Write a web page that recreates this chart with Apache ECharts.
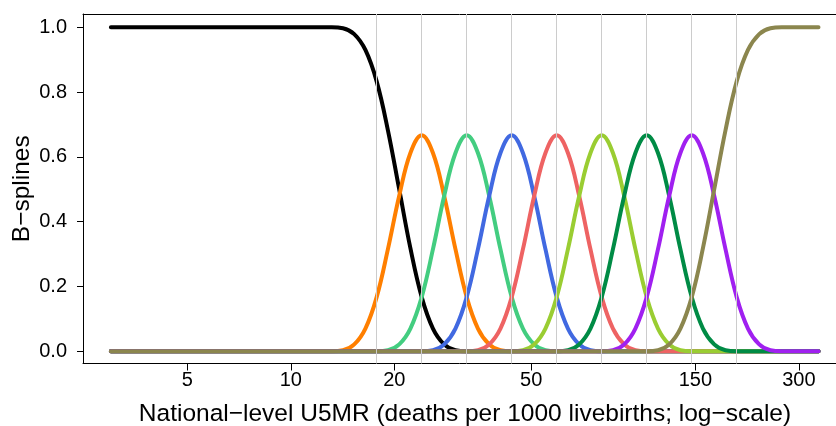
<!DOCTYPE html>
<html>
<head>
<meta charset="utf-8">
<script src="https://cdn.jsdelivr.net/npm/echarts@6/dist/echarts.min.js"></script>
<style>
  html, body { margin: 0; padding: 0; background: #ffffff; }
  #chart { width: 836px; height: 426px; }
</style>
</head>
<body>
<div id="chart"></div>
<script>
// National-level U5MR sample positions (log-scale x axis)
const u5mr = [3,
  13.15, 14.18, 15.29, 16.48, 17.77, 19.16, 20.66, 22.27,
  24.02, 25.90, 27.92, 30.11, 32.46, 35.00, 37.74, 40.69,
  43.87, 47.30, 51.00, 54.99, 59.29, 63.93, 68.93, 74.32,
  80.13, 86.40, 93.15, 100.4, 108.3, 116.8, 125.9, 135.7,
  146.4, 157.8, 170.2, 183.5, 197.8, 213.3, 230.0, 247.9,
  267.3, 342];

// Knot positions (grey vertical lines)
const knots = [17.77, 24.02, 32.46, 43.87, 59.29, 80.13, 108.3, 146.4, 197.8];

// Tick labels
const xTicks = [5, 10, 20, 50, 150, 300];
const yTicks = [0, 0.2, 0.4, 0.6, 0.8, 1.0];

// B-spline basis values (one array per basis function)
const bs1 = [1,
  1.000, 0.997, 0.979, 0.930, 0.833, 0.682, 0.500, 0.318,
  0.167, 0.070, 0.021, 0.003, 0, 0, 0, 0,
  0, 0, 0, 0, 0, 0, 0, 0,
  0, 0, 0, 0, 0, 0, 0, 0,
  0, 0, 0, 0, 0, 0, 0, 0,
  0, 0];
const bs2 = [0,
  0, 0.003, 0.021, 0.070, 0.167, 0.315, 0.479, 0.612,
  0.667, 0.612, 0.479, 0.315, 0.167, 0.070, 0.021, 0.003,
  0, 0, 0, 0, 0, 0, 0, 0,
  0, 0, 0, 0, 0, 0, 0, 0,
  0, 0, 0, 0, 0, 0, 0, 0,
  0, 0];
const bs3 = [0,
  0, 0, 0, 0, 0, 0.003, 0.021, 0.070,
  0.167, 0.315, 0.479, 0.612, 0.667, 0.612, 0.479, 0.315,
  0.167, 0.070, 0.021, 0.003, 0, 0, 0, 0,
  0, 0, 0, 0, 0, 0, 0, 0,
  0, 0, 0, 0, 0, 0, 0, 0,
  0, 0];
const bs4 = [0,
  0, 0, 0, 0, 0, 0, 0, 0,
  0, 0.003, 0.021, 0.070, 0.167, 0.315, 0.479, 0.612,
  0.667, 0.612, 0.479, 0.315, 0.167, 0.070, 0.021, 0.003,
  0, 0, 0, 0, 0, 0, 0, 0,
  0, 0, 0, 0, 0, 0, 0, 0,
  0, 0];
const bs5 = [0,
  0, 0, 0, 0, 0, 0, 0, 0,
  0, 0, 0, 0, 0, 0.003, 0.021, 0.070,
  0.167, 0.315, 0.479, 0.612, 0.667, 0.612, 0.479, 0.315,
  0.167, 0.070, 0.021, 0.003, 0, 0, 0, 0,
  0, 0, 0, 0, 0, 0, 0, 0,
  0, 0];
const bs6 = [0,
  0, 0, 0, 0, 0, 0, 0, 0,
  0, 0, 0, 0, 0, 0, 0, 0,
  0, 0.003, 0.021, 0.070, 0.167, 0.315, 0.479, 0.612,
  0.667, 0.612, 0.479, 0.315, 0.167, 0.070, 0.021, 0.003,
  0, 0, 0, 0, 0, 0, 0, 0,
  0, 0];
const bs7 = [0,
  0, 0, 0, 0, 0, 0, 0, 0,
  0, 0, 0, 0, 0, 0, 0, 0,
  0, 0, 0, 0, 0, 0.003, 0.021, 0.070,
  0.167, 0.315, 0.479, 0.612, 0.667, 0.612, 0.479, 0.315,
  0.167, 0.070, 0.021, 0.003, 0, 0, 0, 0,
  0, 0];
const bs8 = [0,
  0, 0, 0, 0, 0, 0, 0, 0,
  0, 0, 0, 0, 0, 0, 0, 0,
  0, 0, 0, 0, 0, 0, 0, 0,
  0, 0.003, 0.021, 0.070, 0.167, 0.315, 0.479, 0.612,
  0.667, 0.612, 0.479, 0.315, 0.167, 0.070, 0.021, 0.003,
  0, 0];
const bs9 = [0,
  0, 0, 0, 0, 0, 0, 0, 0,
  0, 0, 0, 0, 0, 0, 0, 0,
  0, 0, 0, 0, 0, 0, 0, 0,
  0, 0, 0, 0, 0, 0.003, 0.021, 0.070,
  0.167, 0.318, 0.500, 0.682, 0.833, 0.930, 0.979, 0.997,
  1.000, 1];

const basis = [bs1, bs2, bs3, bs4, bs5, bs6, bs7, bs8, bs9];
const colors = ['#000000', '#FF7F00', '#43CD80', '#4169E1', '#EE6363',
                '#9ACD32', '#008B45', '#A020F0', '#8B864E'];

const FONT = '"Liberation Sans", Arial, Helvetica, sans-serif';
const xMin = 2.489, xMax = 384.5;

const series = [{
  type: 'line',
  data: [],
  z: 1,
  silent: true,
  markLine: {
    silent: true,
    symbol: ['none', 'none'],
    label: { show: false },
    lineStyle: { color: '#cccccc', width: 1, type: 'solid' },
    data: knots.map(k => ({ xAxis: k }))
  }
}];
basis.forEach((ys, s) => {
  series.push({
    type: 'line',
    z: 2,
    showSymbol: false,
    symbol: 'none',
    smooth: 0.4,
    lineStyle: { color: colors[s], width: 4, cap: 'round', join: 'round' },
    data: u5mr.map((x, i) => [x, ys[i]])
  });
});

const chart = echarts.init(document.getElementById('chart'), null, { renderer: 'canvas' });
chart.setOption({
  animation: false,
  backgroundColor: '#ffffff',
  grid: { left: 83, right: 0, top: 14, bottom: 62.5, containLabel: false, outerBoundsMode: 'none' },
  xAxis: [{
    type: 'log',
    min: xMin,
    max: xMax,
    name: 'National\u2212level U5MR (deaths per 1000 livebirths; log\u2212scale)',
    nameLocation: 'middle',
    nameGap: 38,
    nameTextStyle: { fontFamily: FONT, fontSize: 24.5, color: '#000000', padding: [0, 0, 0, 11] },
    axisLine: { show: true, onZero: false, lineStyle: { color: '#000000', width: 1 } },
    axisTick: { show: true, length: 7, customValues: xTicks, lineStyle: { color: '#000000', width: 1 } },
    axisLabel: {
      show: true, margin: 7, customValues: xTicks,
      fontFamily: FONT, fontSize: 20, color: '#000000',
      formatter: v => String(Math.round(v))
    },
    splitLine: { show: false },
    minorTick: { show: false }
  }, {
    type: 'log',
    position: 'top',
    min: xMin,
    max: xMax,
    axisLine: { show: true, onZero: false, lineStyle: { color: '#000000', width: 1 } },
    axisTick: { show: false },
    axisLabel: { show: false },
    splitLine: { show: false }
  }],
  yAxis: {
    type: 'value',
    min: -0.038,
    max: 1.041,
    name: 'B\u2212splines',
    nameLocation: 'middle',
    nameRotate: 90,
    nameGap: 48,
    nameMoveOverlap: false,
    nameTextStyle: { fontFamily: FONT, fontSize: 24.5, color: '#000000' },
    axisLine: { show: true, onZero: false, lineStyle: { color: '#000000', width: 1 } },
    axisTick: { show: true, length: 6, customValues: yTicks, lineStyle: { color: '#000000', width: 1 } },
    axisLabel: {
      show: true, margin: 16, customValues: yTicks,
      fontFamily: FONT, fontSize: 20, color: '#000000',
      formatter: v => Number(v).toFixed(1)
    },
    splitLine: { show: false }
  },
  series: series
});
</script>
</body>
</html>
